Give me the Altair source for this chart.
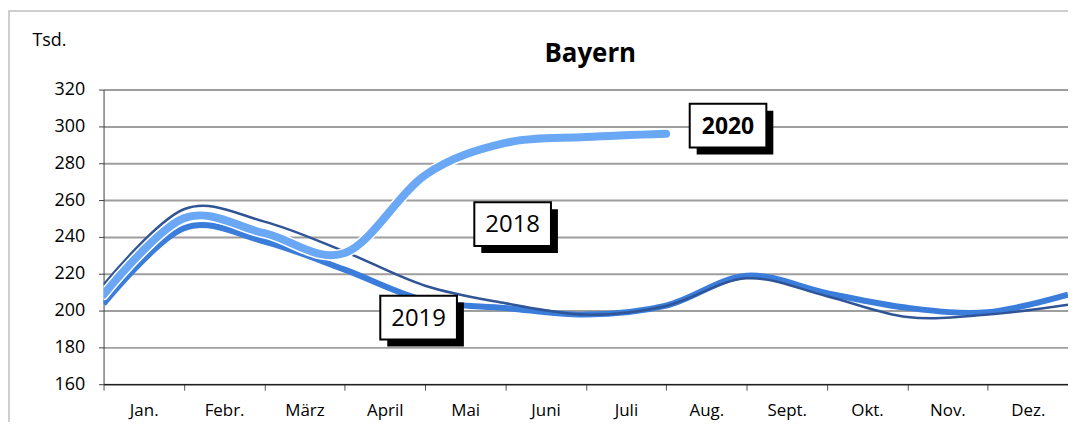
import json
import altair as alt
import pandas as pd

# ---------------- data ----------------
months = ["Jan.", "Febr.", "März", "April", "Mai", "Juni", "Juli",
          "Aug.", "Sept.", "Okt.", "Nov.", "Dez."]
positions = list(range(13))
y_ticks = [160, 180, 200, 220, 240, 260, 280, 300, 320]

values_2018 = [214, 255, 248.3, 232, 213.5, 204, 197.8, 202.5, 217.5, 207.8, 196.5, 197.8, 203.2]
values_2019 = [203.6, 244.7, 237.5, 222.2, 205.5, 201.4, 197.8, 202.7, 218.9, 209.5, 201.5, 199.1, 208.6]
values_2020 = [208.6, 250.1, 242, 231.2, 273.5, 291, 294.2, 296]

label_years = ["2018", "2019", "2020"]
label_pos = [5.09, 3.92, 7.77]
label_value = [246.9, 196.2, 300.4]

# ---------------- tables ----------------
rows = []
for year, vals in (("2018", values_2018), ("2019", values_2019), ("2020", values_2020)):
    for p, v in zip(positions, vals):
        rows.append({"year": year, "pos": p, "value": v})
lines_df = pd.DataFrame(rows)
labels_df = pd.DataFrame({"year": label_years, "pos": label_pos, "value": label_value})
frame_df = pd.DataFrame({"a": [0]})

# ---------------- styling ----------------
FONT = "Open Sans"
W, H = 969, 296
x_scale = alt.Scale(domain=[0, 12], nice=False, zero=False)
y_scale = alt.Scale(domain=[160, 320], nice=False, zero=False)
month_js = json.dumps(months, ensure_ascii=False)

x_axis = alt.Axis(
    values=positions,
    labelExpr=f"datum.value < 12 ? {month_js}[datum.value] : ''",
    labelOffset=40.35, grid=False, tickSize=6, tickColor="#555555",
    domainColor="#000000", domainWidth=1, labelFont=FONT, labelFontSize=17,
    labelColor="#000000", labelPadding=12, labelBaseline="top", labelAngle=0,
    labelFlush=False, labelOverlap=False, title=None,
)
y_axis = alt.Axis(
    values=y_ticks, grid=True, gridColor="#9e9e9e", gridWidth=2,
    tickSize=5, tickColor="#404040", domainColor="#404040",
    labelFont=FONT, labelFontSize=18, labelPadding=14, labelColor="#000000",
    labelOverlap=False, labelFlush=False,
    title="Tsd.", titleAngle=0, titleX=-72, titleY=-44, titleAlign="left",
    titleBaseline="alphabetic", titleFont=FONT, titleFontSize=18,
    titleFontWeight="normal", titleColor="#000000",
)

X = alt.X("pos:Q", scale=x_scale, axis=x_axis)
Y = alt.Y("value:Q", scale=y_scale, axis=y_axis)

frame = alt.Chart(frame_df).mark_rect(
    fill="transparent", stroke="#BFBFBF", strokeWidth=1.5
).encode(x=alt.value(-95), x2=alt.value(1100), y=alt.value(-79), y2=alt.value(500))

base = alt.Chart(lines_df)
l2019 = base.transform_filter("datum.year == '2019'").mark_line(
    interpolate="cardinal", color="#3A7DDB", strokeWidth=6, clip=True
).encode(x=X, y=Y)
l2018 = base.transform_filter("datum.year == '2018'").mark_line(
    interpolate="cardinal", color="#2F5597", strokeWidth=2.5, clip=True
).encode(x=X, y=Y)
l2020_halo = base.transform_filter("datum.year == '2020'").mark_line(
    interpolate="cardinal", color="#FFFFFF", strokeWidth=11, strokeCap="round", clip=True
).encode(x=X, y=Y)
l2020 = base.transform_filter("datum.year == '2020'").mark_line(
    interpolate="cardinal", color="#6AA8F5", strokeWidth=8, strokeCap="round", clip=True
).encode(x=X, y=Y)

box_path = "M-1,-0.5714L1,-0.5714L1,0.5714L-1,0.5714Z"
lab = alt.Chart(labels_df)
shadow = lab.mark_point(
    shape=box_path, size=77 * 77, filled=True, fill="#000000", strokeWidth=0,
    xOffset=7, yOffset=7, opacity=1
).encode(x=X, y=Y)
box = lab.mark_point(
    shape=box_path, size=77 * 77, filled=True, fill="#FFFFFF", stroke="#000000",
    strokeWidth=2, opacity=1
).encode(x=X, y=Y)
txt_normal = lab.transform_filter("datum.year != '2020'").mark_text(
    font=FONT, fontSize=24, color="#000000", baseline="middle", align="center", dy=1
).encode(x=X, y=Y, text="year:N")
txt_bold = lab.transform_filter("datum.year == '2020'").mark_text(
    font=FONT, fontSize=23, fontWeight="bold", color="#000000", baseline="middle",
    align="center", dy=1
).encode(x=X, y=Y, text="year:N")

chart = alt.layer(
    frame, l2019, l2018, l2020_halo, l2020, shadow, box, txt_normal, txt_bold
).properties(
    width=W, height=H,
    title=alt.TitleParams(
        "Bayern", font=FONT, fontSize=26, fontWeight="bold", color="#000000",
        anchor="middle", baseline="alphabetic", offset=-78, dx=4.5,
    ),
    autosize=alt.AutoSizeParams(type="none"),
    padding={"left": 96, "top": 81, "right": 0, "bottom": 37},
    background="#FFFFFF",
).configure_view(stroke=None)

chart.save("out.html", embed_options={"renderer": "svg", "actions": False})
